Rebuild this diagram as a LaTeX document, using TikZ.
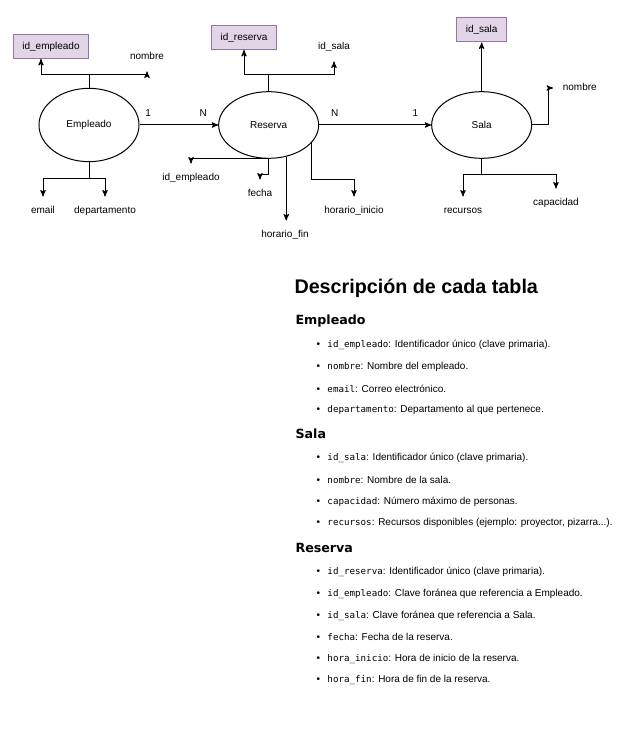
\documentclass[tikz,border=0pt]{standalone}
\usepackage{fontspec}
\setmainfont{Liberation Sans}
\newfontfamily\codefont{DejaVu Sans Mono}
\newfontfamily\headfont{DejaVu Sans}
\usetikzlibrary{shapes.geometric}
\usetikzlibrary{positioning}
\usetikzlibrary{arrows}

\definecolor{keyfill}{HTML}{E1D5E7}
\definecolor{keyline}{HTML}{9673A6}

\begin{document}
\begin{tikzpicture}[x=0.75pt,y=-0.75pt,>=stealth',line width=0.75pt,
	font=\fontsize{7.5}{9}\selectfont,
	entity/.style={ellipse,draw,minimum width=75pt,minimum height=50pt,inner sep=0pt},
	pkey/.style={rectangle,draw=keyline,fill=keyfill,minimum height=18pt,inner xsep=6.7pt},
	attr/.style={inner sep=7pt,text height=5.5pt,text depth=1.5pt},
	card/.style={above=6pt,inner sep=0pt},
	titulo/.style={anchor=west,inner sep=0pt,font=\fontsize{14.8}{16}\selectfont\bfseries},
	tabla/.style={anchor=west,inner sep=0pt,font=\fontsize{9.5}{11}\selectfont\headfont\bfseries},
	dato/.style={anchor=west,inner sep=0pt}]
	
	\useasboundingbox[fill=white] (0,0) rectangle (640,748);
	
	% entidades
	\node[entity,minimum height=55pt] (emp) at (89,125) {Empleado};
	\node[entity] (res) [right=59pt of emp] {Reserva};
	\node[entity] (sala) [right=84pt of res] {Sala};
	
	% claves primarias
	\node[pkey] (idemp) at (51,46.5) {id\_empleado};
	\node[pkey] (idres) at (244,37.5) {id\_reserva};
	\node[pkey] (idsala) [above=36.5pt of sala] {id\_sala};
	
	% atributos
	\node[attr] (nomE) at (147,57) {nombre};
	\node[attr] (email) at (43,211) {email};
	\node[attr] (depto) at (105,211) {departamento};
	\node[attr] (idsalaR) at (334,47) {id\_sala};
	\node[attr] (idempR) at (191,178) {id\_empleado};
	\node[attr] (fecha) at (260,194) {fecha};
	\node[attr] (hfin) at (285,235) {horario\_fin};
	\node[attr] (hini) at (354,211) {horario\_inicio};
	\node[attr,anchor=west] (nomS) at (553,88) {nombre};
	\node[attr] (recursos) at (463,211) {recursos};
	\node[attr] (capac) at (556,203) {capacidad};
	
	% relaciones
	\draw[->] (emp) -- node[card,pos=0.11] {1} node[card,pos=0.81] {N} (res);
	\draw[->] (res) -- node[card,pos=0.14] {N} node[card,pos=0.86] {1} (sala);
	
	% Empleado
	\draw (emp.north) -- ++(0,-13) coordinate (empT);
	\draw[->] (empT) -| ([xshift=-7.5pt]idemp.south);
	\draw[->] (empT) -| (nomE.south);
	\draw (emp.south) -- ++(0,16) coordinate (empB);
	\draw[->] (empB) -| (email.north);
	\draw[->] (empB) -| (depto.north);
	
	% Reserva
	\draw (res.north) -- ++(0,-17) coordinate (resT);
	\draw[->] (resT) -| (idres.south);
	\draw[->] (resT) -| (idsalaR.south);
	\draw[->] (res.south) -| (idempR.north);
	\draw[->] (res.south) -- ++(0,16) -| (fecha.north);
	\draw[->] (res.-61) -- (res.-61 |- hfin.north);
	\draw[->] (res.-23) -- ++(0,36) -| (hini.north);
	
	% Sala
	\draw[->] (sala.north) -- (idsala.south);
	\draw[->] (sala.east) -- ++(16,0) |- (nomS.west);
	\draw (sala.south) -- ++(0,16) coordinate (salaB);
	\draw[->] (salaB) -| (recursos.north);
	\draw[->] (salaB) -| (capac.north);
	
	% descripcion
	\node[titulo] (desc) at (294,288) {Descripción de cada tabla};
	
	\node[tabla] (tEmp) at (295,321) {Empleado};
	\node[dato] (e1) at (316,345) {•\hspace{5.6pt}{\codefont\fontsize{6.9}{9}\selectfont id\_empleado}: Identificador único (clave primaria).};
	\node[dato] (e2) at (316,367) {•\hspace{5.6pt}{\codefont\fontsize{6.9}{9}\selectfont nombre}: Nombre del empleado.};
	\node[dato] (e3) at (316,389) {•\hspace{5.6pt}{\codefont\fontsize{6.9}{9}\selectfont email}: Correo electrónico.};
	\node[dato] (e4) at (316,410) {•\hspace{5.6pt}{\codefont\fontsize{6.9}{9}\selectfont departamento}: Departamento al que pertenece.};
	
	\node[tabla] (tSala) at (295,434) {Sala};
	\node[dato] (s1) at (316,458) {•\hspace{5.6pt}{\codefont\fontsize{6.9}{9}\selectfont id\_sala}: Identificador único (clave primaria).};
	\node[dato] (s2) at (316,480) {•\hspace{5.6pt}{\codefont\fontsize{6.9}{9}\selectfont nombre}: Nombre de la sala.};
	\node[dato] (s3) at (316,502) {•\hspace{5.6pt}{\codefont\fontsize{6.9}{9}\selectfont capacidad}: Número máximo de personas.};
	\node[dato] (s4) at (316,523) {•\hspace{5.6pt}{\codefont\fontsize{6.9}{9}\selectfont recursos}: Recursos disponibles (ejemplo: proyector, pizarra...).};
	
	\node[tabla] (tRes) at (295,548) {Reserva};
	\node[dato] (r1) at (316,572) {•\hspace{5.6pt}{\codefont\fontsize{6.9}{9}\selectfont id\_reserva}: Identificador único (clave primaria).};
	\node[dato] (r2) at (316,594) {•\hspace{5.6pt}{\codefont\fontsize{6.9}{9}\selectfont id\_empleado}: Clave foránea que referencia a Empleado.};
	\node[dato] (r3) at (316,616) {•\hspace{5.6pt}{\codefont\fontsize{6.9}{9}\selectfont id\_sala}: Clave foránea que referencia a Sala.};
	\node[dato] (r4) at (316,637) {•\hspace{5.6pt}{\codefont\fontsize{6.9}{9}\selectfont fecha}: Fecha de la reserva.};
	\node[dato] (r5) at (316,659) {•\hspace{5.6pt}{\codefont\fontsize{6.9}{9}\selectfont hora\_inicio}: Hora de inicio de la reserva.};
	\node[dato] (r6) at (316,680) {•\hspace{5.6pt}{\codefont\fontsize{6.9}{9}\selectfont hora\_fin}: Hora de fin de la reserva.};
\end{tikzpicture}
\end{document}
